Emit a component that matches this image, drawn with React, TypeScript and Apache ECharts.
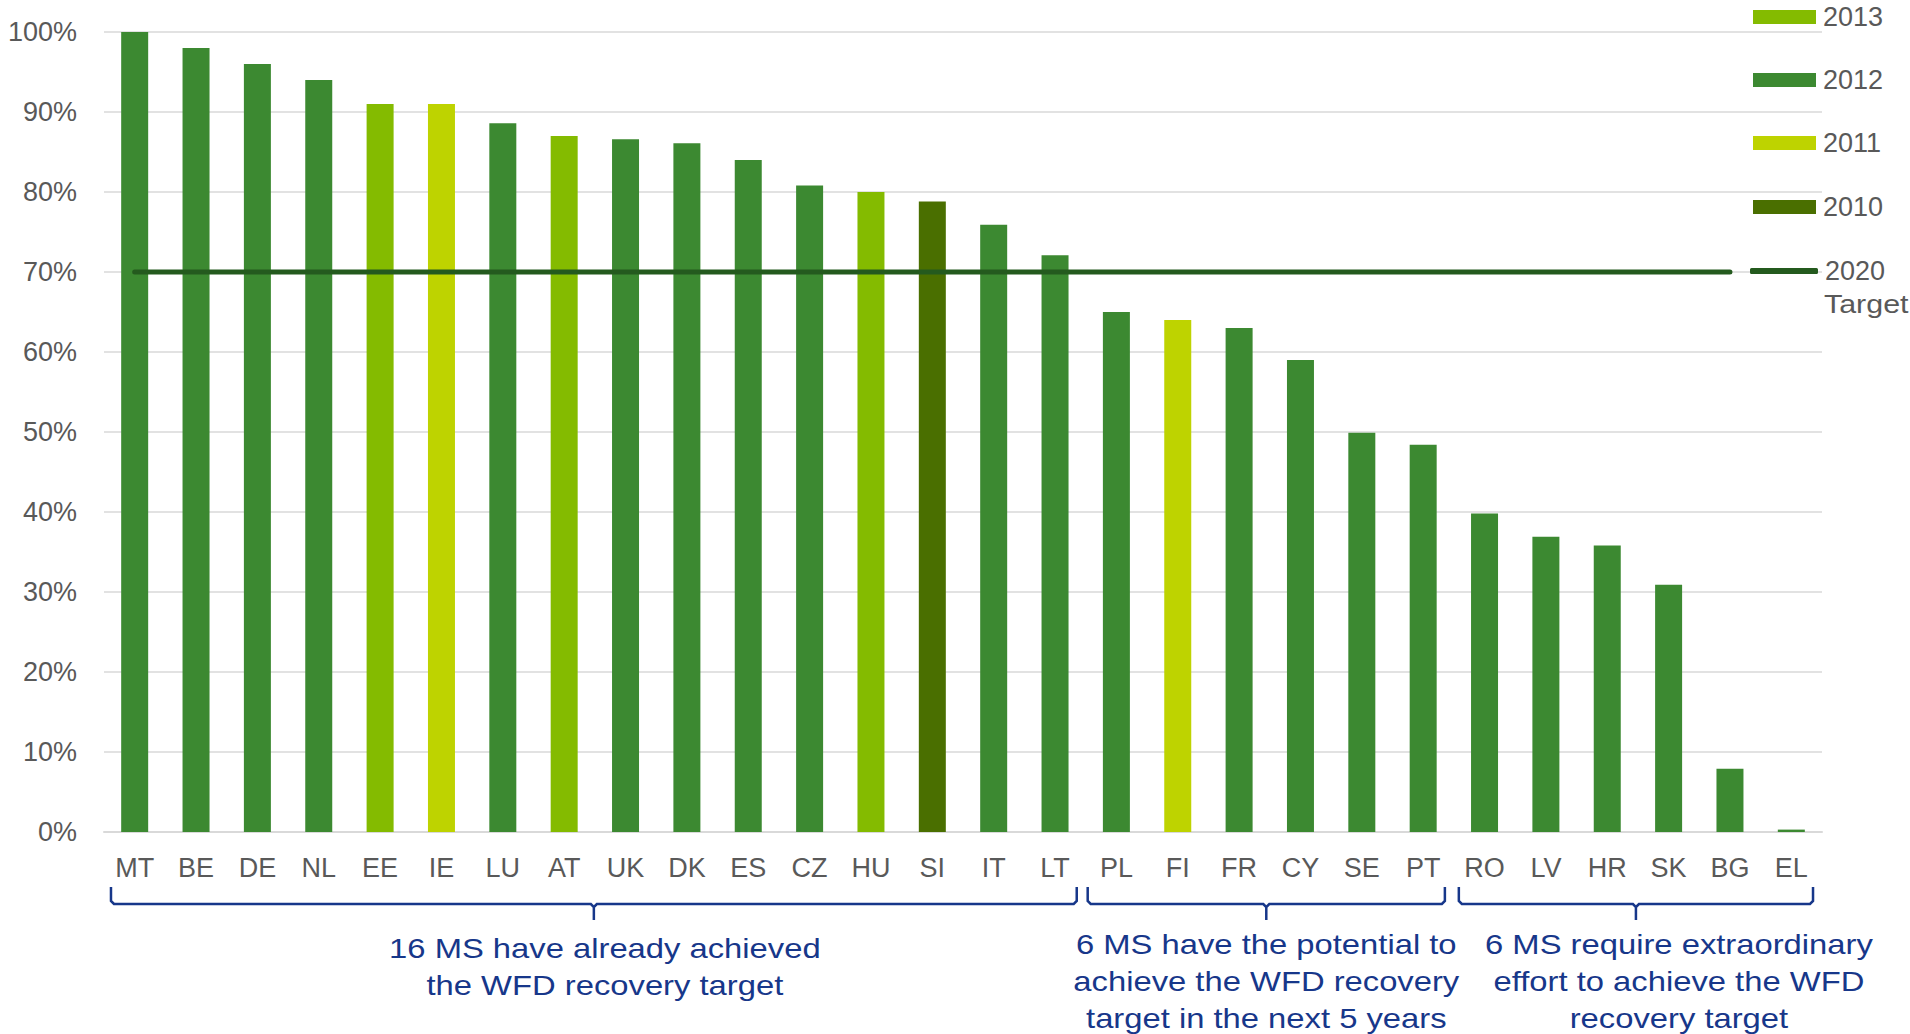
import React, { useEffect, useRef } from "react";
import * as echarts from "echarts";

const categories = ["MT","BE","DE","NL","EE","IE","LU","AT","UK","DK","ES","CZ","HU","SI","IT","LT","PL","FI","FR","CY","SE","PT","RO","LV","HR","SK","BG","EL"];
const values = [100,98,96,94,91,91,88.6,87,86.6,86.1,84,80.8,80,78.8,75.9,72.1,65,64,63,59,49.9,48.4,39.8,36.9,35.8,30.9,7.9,0.3];
const reportYear = ["2012","2012","2012","2012","2013","2011","2012","2013","2012","2012","2012","2012","2013","2010","2012","2012","2012","2011","2012","2012","2012","2012","2012","2012","2012","2012","2012","2012"];
const yearSeries = ["2013","2012","2011","2010"];
const yearColors = ["#84bb00","#3c8931","#bed300","#4a6f00"];
const targetName = "2020 Target";
const targetValues = [70,70,70,70,70,70,70,70,70,70,70,70,70,70,70,70,70,70,70,70,70,70,70,70,70,70,70,"-"];
const groups = [
  { from: "MT", to: "LT", text: "16 MS have already achieved\nthe WFD recovery target", dx: 11, top: 929, padL: 7 },
  { from: "PL", to: "PT", text: "6 MS have the potential to\nachieve the WFD recovery\ntarget in the next 5 years", dx: 0, top: 925, padL: 2 },
  { from: "RO", to: "EL", text: "6 MS require extraordinary\neffort to achieve the WFD\nrecovery target", dx: 43, top: 925, padL: 5 },
];

const FONT = "Liberation Sans, Arial, sans-serif";
const NAVY = "#17378a";
const GREY = "#595959";
const STRETCH = 1.17;

export default function App() {
  const ref = useRef<HTMLDivElement>(null);
  useEffect(() => {
    if (!ref.current) return;
    const chart = echarts.init(ref.current, null, { renderer: "svg" });
    const barSeries = yearSeries.map((y, k) => ({
      name: y,
      type: "bar",
      stack: "all",
      barWidth: "44%",
      itemStyle: { color: yearColors[k] },
      data: values.map((v, i) => (reportYear[i] === y ? v : "-")),
    }));
    const legendTops = [3, 66, 129, 193];
    const legendText = { fontSize: 27, color: GREY, fontFamily: FONT, lineHeight: 28, padding: [0, 0, 0, 2] };
    const legends: any[] = yearSeries.map((y, k) => ({
      data: [y],
      orient: "vertical",
      left: 1753,
      top: legendTops[k],
      padding: 0,
      itemWidth: 63,
      itemHeight: 14,
      icon: "rect",
      textStyle: legendText,
    }));
    legends.push({
      data: [{ name: targetName, icon: "roundRect" }],
      left: 1750,
      top: 257,
      padding: 0,
      itemWidth: 68,
      itemHeight: 6,
      formatter: () => "2020",
      textStyle: legendText,
    });
    chart.setOption({
      animation: false,
      grid: { left: 104, right: 88, top: 32, bottom: 202, containLabel: false },
      legend: legends,
      xAxis: {
        type: "category",
        data: categories,
        axisTick: { show: false },
        axisLine: { lineStyle: { color: "#d9d9d9", width: 2 } },
        axisLabel: { fontSize: 27, color: GREY, fontFamily: FONT, margin: 22, interval: 0 },
      },
      yAxis: {
        type: "value",
        min: 0,
        max: 100,
        interval: 10,
        axisLabel: { fontSize: 27, color: GREY, fontFamily: FONT, margin: 27, formatter: (v: number) => v + "%" },
        splitLine: { lineStyle: { color: "#d9d9d9", width: 1.5 } },
        axisLine: { show: false },
        axisTick: { show: false },
      },
      series: [
        ...barSeries,
        {
          name: targetName,
          type: "line",
          data: targetValues,
          symbol: "none",
          z: 5,
          itemStyle: { color: "#245a1e" },
          lineStyle: { color: "#245a1e", width: 5, cap: "round" },
        },
      ],
    });

    const half = 30.7;
    const elements: any[] = [];
    groups.forEach((g) => {
      const xa = (chart.convertToPixel({ xAxisIndex: 0 }, g.from) as number) - half + g.padL;
      const xb = (chart.convertToPixel({ xAxisIndex: 0 }, g.to) as number) + half - 9;
      const xm = (xa + xb) / 2;
      const yT = 887, yH = 904, yB = 920;
      elements.push({
        type: "polyline",
        shape: {
          points: [
            [xa, yT], [xa, yH - 3], [xa + 3, yH], [xm - 3, yH], [xm, yH + 3], [xm, yB],
            [xm, yH + 3], [xm + 3, yH], [xb - 3, yH], [xb, yH - 3], [xb, yT],
          ],
        },
        style: { stroke: NAVY, lineWidth: 2.5, fill: null },
      });
      elements.push({
        type: "text",
        x: xm + g.dx,
        y: g.top,
        scaleX: STRETCH,
        style: {
          text: g.text,
          fill: NAVY,
          font: `28px ${FONT}`,
          lineHeight: 37,
          align: "center",
          verticalAlign: "top",
        },
      });
    });
    elements.push({
      type: "text",
      x: 1824,
      y: 291,
      scaleX: STRETCH,
      style: { text: "Target", fill: GREY, font: `26px ${FONT}`, verticalAlign: "top" },
    });
    chart.setOption({ graphic: { elements } });
    return () => chart.dispose();
  }, []);
  return <div ref={ref} style={{ position: "fixed", left: 0, top: 0, width: 1910, height: 1034, background: "#fff" }} />;
}
